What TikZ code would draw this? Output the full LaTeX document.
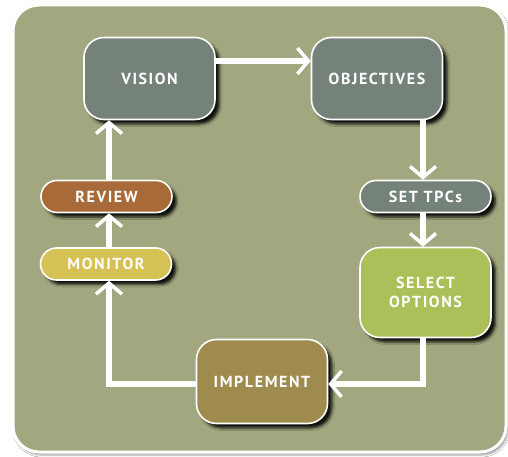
\documentclass[tikz,border=0pt]{standalone}
\usepackage{fontspec}
\setmainfont{PT Sans}
\newfontfamily\lblfont[LetterSpace=10]{PT Sans}
\usetikzlibrary{arrows.meta,shadows.blur}
\definecolor{bgolive}{RGB}{163,167,128}
\definecolor{slate}{RGB}{116,130,122}
\definecolor{rust}{RGB}{168,106,56}
\definecolor{mustard}{RGB}{214,193,85}
\definecolor{lime}{RGB}{171,192,88}
\definecolor{khaki}{RGB}{160,139,78}
\tikzset{
  box/.style={draw=white, line width=1.6pt, text=white, align=center,
    font=\lblfont\bfseries\fontsize{16}{19}\selectfont,
    blur shadow={shadow xshift=4.5pt, shadow yshift=-4.5pt, shadow blur radius=2.5pt, shadow opacity=90}},
  bigbox/.style={box, rounded corners=20pt, minimum width=131pt, minimum height=82pt},
  pill/.style={box, rounded corners=16pt, minimum width=131pt, minimum height=32pt},
  flow/.style={draw=white, line width=6pt,
    -{Straight Barb[length=11pt,width=26pt,line width=3.5pt]}}
}
\begin{document}
\begin{tikzpicture}[x=1pt,y=-1pt]
\useasboundingbox (0,0) rectangle (508,457);
\fill[white] (0,0) rectangle (508,457);
\draw[white, line width=3pt, fill=bgolive, rounded corners=26pt,
  blur shadow={shadow xshift=2pt, shadow yshift=-3pt, shadow blur radius=2pt, shadow opacity=40}]
  (13,5) rectangle (506,452);
\node[bigbox, fill=slate] (vision) at (149.5,78.5) {VISION};
\node[bigbox, fill=slate] (obj) at (377,78.5) {OBJECTIVES};
\node[pill, fill=slate] (tpc) at (425.5,196.5) {SET TPCs};
\node[pill, fill=rust] (review) at (106.5,196.5) {REVIEW};
\node[pill, fill=mustard] (monitor) at (106,264) {MONITOR};
\node[bigbox, fill=lime, minimum height=90pt] (select) at (425.5,292.5) {SELECT\\OPTIONS};
\node[bigbox, fill=khaki, minimum height=84pt] (impl) at (262,381.5) {IMPLEMENT};
\coordinate (L) at (109,0);
\coordinate (R) at (423,0);
\coordinate (T) at (0,61);
\coordinate (B) at (0,384);
\draw[flow] (vision.east |- T) -- (obj.west |- T);
\draw[flow] (obj.south -| R) -- (tpc.north -| R);
\draw[flow] (tpc.south -| R) -- (select.north -| R);
\draw[flow] (select.south -| R) -- (R |- B) -- (impl.east |- B);
\draw[flow] (impl.west |- B) -- (L |- B) -- (monitor.south -| L);
\draw[flow] (monitor.north -| L) -- (review.south -| L);
\draw[flow] (review.north -| L) -- (vision.south -| L);
\end{tikzpicture}
\end{document}
